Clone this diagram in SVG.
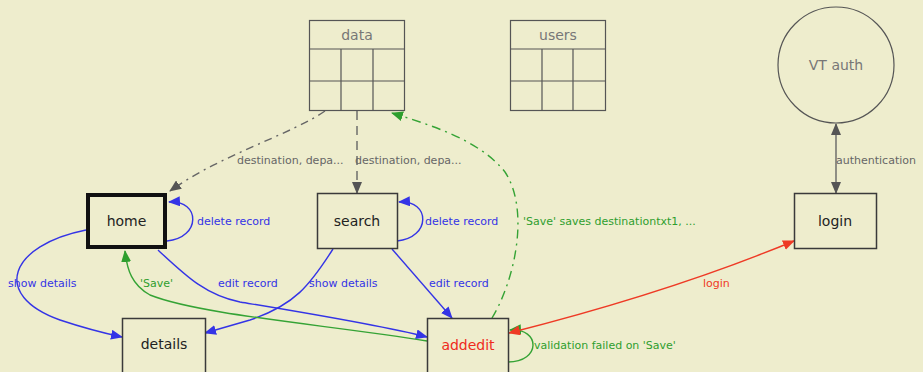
<svg xmlns="http://www.w3.org/2000/svg" width="923" height="372" viewBox="0 0 923 372">
<style>
.bg{fill:#EEEDCD}
.box{fill:#EEEDCD;stroke:#3a3a3a;stroke-width:1.5}
.tbl{fill:none;stroke:#555;stroke-width:1.2}
.nl{font-family:"DejaVu Sans",sans-serif;font-size:14px;fill:#222;text-anchor:middle}
.tl{font-family:"DejaVu Sans",sans-serif;font-size:14px;fill:#777;text-anchor:middle}
.el{font-family:"DejaVu Sans",sans-serif;font-size:11px}
.e{fill:none;stroke-width:1.4}
.blue{stroke:#3434E6}
.green{stroke:#35A335}
.red{stroke:#EE3A25}
.gray{stroke:#666}
.tb{fill:#3434E6}.tg{fill:#2E9E2E}.tr{fill:#EE3A25}.tgr{fill:#666}
</style>
<defs>
<marker id="ab" viewBox="0 0 12 10" refX="11" refY="5" markerWidth="12" markerHeight="10" markerUnits="userSpaceOnUse" orient="auto-start-reverse"><path d="M0,0 L12,5 L0,10 z" fill="#3434E6"/></marker>
<marker id="ag" viewBox="0 0 12 10" refX="11" refY="5" markerWidth="12" markerHeight="10" markerUnits="userSpaceOnUse" orient="auto-start-reverse"><path d="M0,0 L12,5 L0,10 z" fill="#2E9E2E"/></marker>
<marker id="ar" viewBox="0 0 12 10" refX="11" refY="5" markerWidth="12" markerHeight="10" markerUnits="userSpaceOnUse" orient="auto-start-reverse"><path d="M0,0 L12,5 L0,10 z" fill="#EE3A25"/></marker>
<marker id="agr" viewBox="0 0 12 10" refX="11" refY="5" markerWidth="12" markerHeight="10" markerUnits="userSpaceOnUse" orient="auto-start-reverse"><path d="M0,0 L12,5 L0,10 z" fill="#555"/></marker>
</defs>
<rect class="bg" x="0" y="0" width="923" height="372"/>

<g id="connectors">
<path class="e gray" stroke-dasharray="8,5,2,5" d="M325,111 C290,135 220,155 170,191" marker-end="url(#agr)"/>
<path class="e gray" stroke-dasharray="9,6" d="M357,111 L357,193" marker-end="url(#agr)"/>
<path class="e green" stroke-dasharray="9,5,2,5" d="M492,318 C515,280 530,210 505,172 C480,140 430,125 392,113" marker-end="url(#ag)"/>
<path class="e blue" d="M167,241 C201,238 201,200 169,202" marker-end="url(#ab)"/>
<path class="e blue" d="M397,241 C431,238 431,200 399,202" marker-end="url(#ab)"/>
<path class="e blue" d="M86,230 C10,245 -10,295 60,320 C90,330 108,334 122,337" marker-end="url(#ab)"/>
<path class="e blue" d="M158,250 C185,275 205,295 240,302 C300,312 380,325 427,337" marker-end="url(#ab)"/>
<path class="e blue" d="M333,249 C310,285 295,305 250,320 L205,333" marker-end="url(#ab)"/>
<path class="e blue" d="M392,249 L452,318" marker-end="url(#ab)"/>
<path class="e green" d="M427,341 C330,325 200,315 150,295 C132,285 127,270 125,251" marker-end="url(#ag)"/>
<path class="e green" d="M508,362 C541,362 541,328 510,330" marker-end="url(#ag)"/>
<path class="e red" d="M509,333 C600,310 700,280 794,241" marker-start="url(#ar)" marker-end="url(#ar)"/>
<path class="e gray" d="M836,124 L836,193" marker-start="url(#agr)" marker-end="url(#agr)"/>

<text class="el tgr" x="237" y="164">destination, depa...</text>
<text class="el tgr" x="355" y="164">destination, depa...</text>
<text class="el tg" x="523" y="225">'Save' saves destinationtxt1, ...</text>
<text class="el tb" x="197" y="225">delete record</text>
<text class="el tb" x="425" y="225">delete record</text>
<text class="el tb" x="8" y="287">show details</text>
<text class="el tb" x="309" y="287">show details</text>
<text class="el tb" x="218" y="287">edit record</text>
<text class="el tb" x="429" y="287">edit record</text>
<text class="el tg" x="140" y="287">'Save'</text>
<text class="el tr" x="703" y="287">login</text>
<text class="el tg" x="534" y="349">validation failed on 'Save'</text>
<text class="el tgr" x="836" y="164">authentication</text>
</g>

<g id="data">
<rect class="tbl" x="309.5" y="20.5" width="95" height="90"/>
<path class="tbl" d="M309.5,49 H404.5 M309.5,81 H404.5 M341,49 V110.5 M373,49 V110.5"/>
<text class="tl" x="357" y="40">data</text>
</g>
<g id="users">
<rect class="tbl" x="510.5" y="20.5" width="95" height="90"/>
<path class="tbl" d="M510.5,49 H605.5 M510.5,81 H605.5 M542,49 V110.5 M573,49 V110.5"/>
<text class="tl" x="558" y="40">users</text>
</g>
<g id="vtauth">
<circle cx="836" cy="65" r="58" fill="none" stroke="#555" stroke-width="1.2"/>
<text class="tl" x="836" y="70">VT auth</text>
</g>
<g id="home">
<rect class="box" x="88" y="195" width="77" height="52" stroke-width="4" style="stroke:#111;stroke-width:4"/>
<text class="nl" x="126.5" y="226">home</text>
</g>
<g id="search">
<rect class="box" x="317.5" y="193.5" width="80" height="55"/>
<text class="nl" x="357" y="226">search</text>
</g>
<g id="login">
<rect class="box" x="794.5" y="193.5" width="82" height="55"/>
<text class="nl" x="835" y="226">login</text>
</g>
<g id="details">
<rect class="box" x="122.5" y="318.5" width="83" height="60"/>
<text class="nl" x="164" y="349">details</text>
</g>
<g id="addedit">
<rect class="box" x="427.5" y="318.5" width="81" height="60"/>
<text class="nl" x="468" y="350" style="fill:#EE2A20">addedit</text>
</g>
</svg>
